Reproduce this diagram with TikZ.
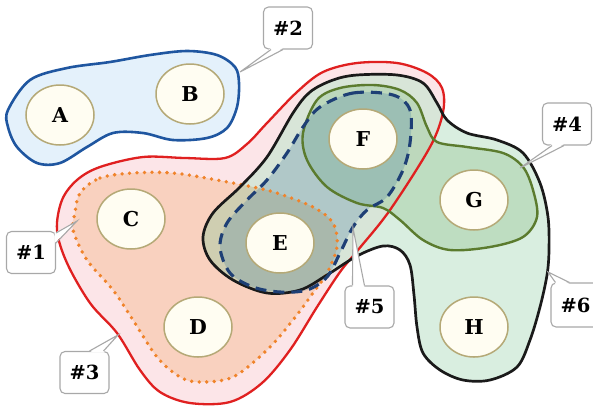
\documentclass[tikz,border=0pt]{standalone}
\usepackage{fontspec}
\setmainfont{DejaVu Serif}
\usetikzlibrary{shapes.geometric,calc}
\definecolor{pinkfill}{HTML}{FCE5E8}
\definecolor{salmonfill}{HTML}{F9D1BF}
\definecolor{sixfill}{HTML}{C6E6D0}
\definecolor{tanshift}{HTML}{B09050}
\definecolor{fourfill}{HTML}{8CC08A}
\definecolor{fivefill}{HTML}{4A7FA0}
\definecolor{twofill}{HTML}{E4F1FB}
\definecolor{redline}{HTML}{E02020}
\definecolor{orangeline}{HTML}{F0832A}
\definecolor{blackline}{HTML}{1A1A1A}
\definecolor{oliveline}{HTML}{5B7B2E}
\definecolor{navyline}{HTML}{1E3F75}
\definecolor{blueline}{HTML}{1F56A0}
\definecolor{nodefill}{HTML}{FFFDF2}
\definecolor{nodeline}{HTML}{B5A977}
\definecolor{boxline}{HTML}{A8A8A8}
\tikzset{
  elem/.style={ellipse, minimum width=68pt, minimum height=60pt, inner sep=0pt,
    draw=nodeline, line width=1.5pt, fill=nodefill,
    font=\fontsize{20.5}{22}\selectfont\bfseries},
  tag/.style={rectangle, rounded corners=5pt, minimum width=49pt, minimum height=42pt,
    inner sep=0pt, draw=boxline, line width=1.1pt, fill=white,
    font=\fontsize{19.5}{21}\selectfont\bfseries},
  tailfill/.style={fill=white},
  tailline/.style={draw=boxline, line width=1.1pt},
  sm/.style={smooth cycle, tension=0.55}
}
\begin{document}
\begin{tikzpicture}[x=1pt,y=-1pt]
\useasboundingbox (0,0) rectangle (593,408);
\fill[white] (0,0) rectangle (593,408);

% #2 region
\draw[fill=twofill, draw=blueline, line width=2.6pt] plot[sm] coordinates {
 (8,110) (30,80) (67,68) (110,62) (150,55) (187,51) (217,55) (235,67) (239,83) (237,107)
 (227,128) (207,138) (173,140) (143,133) (113,133) (87,147) (60,163) (37,163) (17,147) (8,127)};

% fills
\fill[pinkfill] plot[sm] coordinates {
 (62,200) (77,180) (100,167) (143,157) (185,158) (225,158) (247,144) (267,123) (297,92) (323,72)
 (357,63) (397,63) (427,73) (442,88) (443,112) (430,147) (390,210) (358,250) (340,272) (317,307)
 (290,350) (262,383) (230,402) (190,403) (160,392) (140,370) (117,333) (90,303) (67,263) (57,230)};
\fill[salmonfill] plot[sm] coordinates {
 (80,193) (100,178) (133,173) (173,173) (217,180) (253,187) (277,193) (313,207) (333,223) (337,247)
 (327,273) (313,293) (293,320) (267,350) (233,377) (200,382) (180,377) (157,357) (133,320)
 (113,290) (87,260) (73,230) (75,213)};
\fill[sixfill, fill opacity=0.65] plot[sm] coordinates {
 (293,113) (310,92) (333,80) (357,75) (397,75) (423,83) (437,103) (447,120) (467,133) (497,140)
 (523,153) (540,183) (548,217) (549,250) (547,275) (540,307) (530,340) (517,367) (490,380) (463,380)
 (440,370) (423,353) (417,327) (414,295) (410,265) (400,250) (383,246) (357,256) (327,275) (300,290)
 (267,293) (233,280) (210,260) (203,237) (213,213) (240,187) (267,157)};
\begin{scope}
\clip plot[sm] coordinates {
 (80,193) (100,178) (133,173) (173,173) (217,180) (253,187) (277,193) (313,207) (333,223) (337,247)
 (327,273) (313,293) (293,320) (267,350) (233,377) (200,382) (180,377) (157,357) (133,320)
 (113,290) (87,260) (73,230) (75,213)};
\fill[tanshift, fill opacity=0.2] plot[sm] coordinates {
 (293,113) (310,92) (333,80) (357,75) (397,75) (423,83) (437,103) (447,120) (467,133) (497,140)
 (523,153) (540,183) (548,217) (549,250) (547,275) (540,307) (530,340) (517,367) (490,380) (463,380)
 (440,370) (423,353) (417,327) (414,295) (410,265) (400,250) (383,246) (357,256) (327,275) (300,290)
 (267,293) (233,280) (210,260) (203,237) (213,213) (240,187) (267,157)};
\end{scope}
\fill[fourfill, fill opacity=0.35] plot[sm] coordinates {
 (303,133) (317,100) (340,88) (373,85) (400,90) (417,103) (427,127) (437,142) (467,147) (503,153)
 (523,167) (533,190) (537,217) (523,237) (490,247) (450,250) (423,240) (400,220) (383,208) (357,203)
 (327,187) (307,160)};
\fill[fivefill, fill opacity=0.28] plot[sm] coordinates {
 (320,107) (353,93) (393,95) (410,110) (410,143) (403,170) (387,197) (367,210) (353,227) (340,253)
 (327,277) (307,290) (280,292) (253,287) (230,273) (220,247) (227,223) (247,200) (267,180) (287,153)
 (303,127)};

% borders
\draw[redline, line width=2.3pt] plot[sm] coordinates {
 (62,200) (77,180) (100,167) (143,157) (185,158) (225,158) (247,144) (267,123) (297,92) (323,72)
 (357,63) (397,63) (427,73) (442,88) (443,112) (430,147) (390,210) (358,250) (340,272) (317,307)
 (290,350) (262,383) (230,402) (190,403) (160,392) (140,370) (117,333) (90,303) (67,263) (57,230)};
\draw[orangeline, line width=3.8pt, line cap=round, dash pattern=on 0pt off 7.5pt] plot[sm] coordinates {
 (80,193) (100,178) (133,173) (173,173) (217,180) (253,187) (277,193) (313,207) (333,223) (337,247)
 (327,273) (313,293) (293,320) (267,350) (233,377) (200,382) (180,377) (157,357) (133,320)
 (113,290) (87,260) (73,230) (75,213)};
\draw[blackline, line width=2.7pt] plot[sm] coordinates {
 (293,113) (310,92) (333,80) (357,75) (397,75) (423,83) (437,103) (447,120) (467,133) (497,140)
 (523,153) (540,183) (548,217) (549,250) (547,275) (540,307) (530,340) (517,367) (490,380) (463,380)
 (440,370) (423,353) (417,327) (414,295) (410,265) (400,250) (383,246) (357,256) (327,275) (300,290)
 (267,293) (233,280) (210,260) (203,237) (213,213) (240,187) (267,157)};
\draw[oliveline, line width=2.4pt] plot[sm] coordinates {
 (303,133) (317,100) (340,88) (373,85) (400,90) (417,103) (427,127) (437,142) (467,147) (503,153)
 (523,167) (533,190) (537,217) (523,237) (490,247) (450,250) (423,240) (400,220) (383,208) (357,203)
 (327,187) (307,160)};
\draw[navyline, line width=3.1pt, dash pattern=on 11pt off 7pt] plot[sm] coordinates {
 (320,107) (353,93) (393,95) (410,110) (410,143) (403,170) (387,197) (367,210) (353,227) (340,253)
 (327,277) (307,290) (280,292) (253,287) (230,273) (220,247) (227,223) (247,200) (267,180) (287,153)
 (303,127)};

% elements
\node[elem] (a) at (60,115) {A};
\node[elem] (b) at (190,94) {B};
\node[elem] (c) at (131,219) {C};
\node[elem] (d) at (198,327) {D};
\node[elem] (e) at (280,243) {E};
\node[elem] (f) at (363,139) {F};
\node[elem] (g) at (474,200) {G};
\node[elem] (h) at (474,327) {H};

% callouts
\node[tag] (c1) at (31,252.5) {\#1};
\node[tag] (c2) at (288,28) {\#2};
\node[tag] (c3) at (84.5,372.5) {\#3};
\node[tag] (c4) at (567,124) {\#4};
\node[tag] (c5) at (369.5,307) {\#5};
\node[tag, minimum height=44pt] (c6) at (575.5,305) {\#6};

\coordinate (t1) at (77,221);
\coordinate (t2) at (240,72);
\coordinate (t3) at (118,335);
\coordinate (t4) at (520,168);
\coordinate (t5) at (353,228);
\coordinate (t6) at (548,272);

% tails
\fill[tailfill] ([xshift=-1.5pt,yshift=-12pt]c1.north east) -- (t1) -- ([xshift=-1.5pt,yshift=-2pt]c1.north east) -- cycle;
\draw[tailline] ([yshift=-12pt]c1.north east) -- (t1) -- ([yshift=-2pt]c1.north east);

\fill[tailfill] ([xshift=8pt,yshift=1.5pt]c2.south west) -- (t2) -- ([xshift=20pt,yshift=1.5pt]c2.south west) -- cycle;
\draw[tailline] ([xshift=8pt]c2.south west) -- (t2) -- ([xshift=20pt]c2.south west);

\fill[tailfill] ([xshift=-20pt,yshift=-1.5pt]c3.north east) -- (t3) -- ([xshift=-6pt,yshift=-1.5pt]c3.north east) -- cycle;
\draw[tailline] ([xshift=-20pt]c3.north east) -- (t3) -- ([xshift=-6pt]c3.north east);

\fill[tailfill] ([xshift=10pt,yshift=1.5pt]c4.south west) -- (t4) -- ([xshift=22pt,yshift=1.5pt]c4.south west) -- cycle;
\draw[tailline] ([xshift=10pt]c4.south west) -- (t4) -- ([xshift=22pt]c4.south west);

\fill[tailfill] ([xshift=8pt,yshift=-1.5pt]c5.north west) -- (t5) -- ([xshift=20pt,yshift=-1.5pt]c5.north west) -- cycle;
\draw[tailline] ([xshift=8pt]c5.north west) -- (t5) -- ([xshift=20pt]c5.north west);

\fill[tailfill] ([xshift=5pt,yshift=-1.5pt]c6.north west) -- (t6) -- ([xshift=19pt,yshift=-1.5pt]c6.north west) -- cycle;
\draw[tailline] ([xshift=5pt]c6.north west) -- (t6) -- ([xshift=19pt]c6.north west);
\end{tikzpicture}
\end{document}
